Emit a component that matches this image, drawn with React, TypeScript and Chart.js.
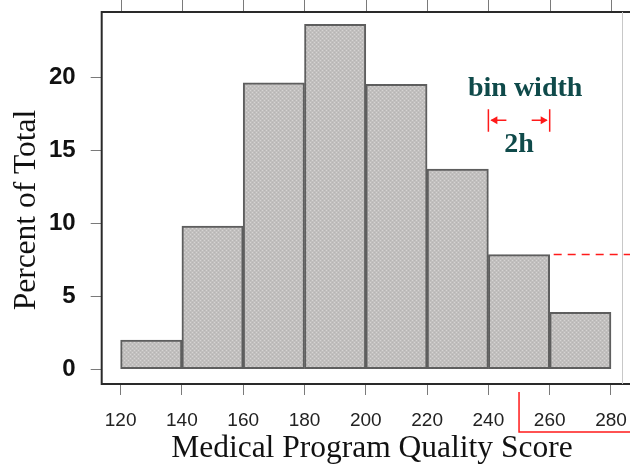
import React, { useEffect, useRef } from "react";
import { Chart, registerables } from "chart.js";

Chart.register(...registerables);

const binCenters = [130, 150, 170, 190, 210, 230, 250, 270];
const percents = [2.0, 9.8, 19.6, 23.6, 19.5, 13.7, 7.85, 3.9];
const xTickValues = [120, 140, 160, 180, 200, 220, 240, 260, 280];
const yTickValues = [0, 5, 10, 15, 20];
const xTitle = "Medical Program Quality Score";
const yTitle = "Percent of Total";
const noteTitle = "bin width";
const noteLabel = "2h";
const noteLeftEdge = 240;
const noteRightEdge = 260;
const bracketX = 250;

function makePattern(): CanvasPattern | string {
  const c = document.createElement("canvas");
  c.width = 4;
  c.height = 4;
  const g = c.getContext("2d");
  if (!g) return "#c0bebd";
  g.fillStyle = "#c1bfbe";
  g.fillRect(0, 0, 4, 4);
  g.fillStyle = "#d6d4d3";
  g.fillRect(0, 0, 1, 1);
  g.fillRect(2, 2, 1, 1);
  g.fillStyle = "#b6b4b3";
  g.fillRect(2, 0, 1, 1);
  g.fillRect(0, 2, 1, 1);
  const p = g.createPattern(c, "repeat");
  return p || "#c0bebd";
}

export default function App() {
  const ref = useRef<HTMLCanvasElement | null>(null);

  useEffect(() => {
    const canvas = ref.current;
    if (!canvas) return;

    const frame = {
      id: "frame",
      afterDraw(chart: any) {
        const { ctx, chartArea } = chart;
        const xs = chart.scales.x;
        const ys = chart.scales.y;
        const W = chart.width;
        const H = chart.height;
        ctx.save();
        // top ticks
        ctx.strokeStyle = "#7a7a7a";
        ctx.lineWidth = 1;
        xTickValues.forEach((v) => {
          const px = Math.round(xs.getPixelForValue(v)) + 0.5;
          ctx.beginPath();
          ctx.moveTo(px, 0);
          ctx.lineTo(px, chartArea.top);
          ctx.stroke();
        });
        // box
        ctx.strokeStyle = "#2a2a2a";
        ctx.lineWidth = 2;
        ctx.beginPath();
        ctx.moveTo(W, chartArea.top);
        ctx.lineTo(chartArea.left, chartArea.top);
        ctx.lineTo(chartArea.left, chartArea.bottom);
        ctx.lineTo(W, chartArea.bottom);
        ctx.stroke();
        ctx.strokeStyle = "#c8c8c8";
        ctx.lineWidth = 1;
        ctx.beginPath();
        ctx.moveTo(chartArea.right - 3.5, chartArea.top);
        ctx.lineTo(chartArea.right - 3.5, chartArea.bottom);
        ctx.stroke();

        // axis titles
        ctx.fillStyle = "#111";
        ctx.font = "31.5px 'Liberation Serif', 'Times New Roman', serif";
        ctx.textAlign = "center";
        ctx.textBaseline = "alphabetic";
        ctx.fillText(xTitle, xs.getPixelForValue(202), H - 8);
        ctx.save();
        ctx.translate(35, ys.getPixelForValue(10.9));
        ctx.rotate(-Math.PI / 2);
        ctx.fillText(yTitle, 0, 0);
        ctx.restore();

        // red annotations
        const red = "#ff1a1a";
        const yDash = ys.getPixelForValue(percents[6]);
        ctx.strokeStyle = red;
        ctx.lineWidth = 1.5;
        ctx.setLineDash([8, 6]);
        ctx.beginPath();
        ctx.moveTo(xs.getPixelForValue(noteRightEdge) + 4, yDash);
        ctx.lineTo(W, yDash);
        ctx.stroke();
        ctx.setLineDash([]);

        const bx = xs.getPixelForValue(bracketX);
        ctx.beginPath();
        ctx.moveTo(bx, chartArea.bottom + 8);
        ctx.lineTo(bx, chartArea.bottom + 48);
        ctx.lineTo(W, chartArea.bottom + 48);
        ctx.stroke();

        const lx = xs.getPixelForValue(noteLeftEdge);
        const rx = xs.getPixelForValue(noteRightEdge);
        const yTop = ys.getPixelForValue(17.8);
        const yBot = ys.getPixelForValue(16.25);
        const yMid = ys.getPixelForValue(17.05);
        ctx.lineWidth = 1.5;
        ctx.beginPath();
        ctx.moveTo(lx, yTop);
        ctx.lineTo(lx, yBot);
        ctx.moveTo(rx, yTop);
        ctx.lineTo(rx, yBot);
        ctx.moveTo(lx + 3, yMid);
        ctx.lineTo(lx + 18, yMid);
        ctx.moveTo(rx - 3, yMid);
        ctx.lineTo(rx - 18, yMid);
        ctx.stroke();
        ctx.fillStyle = red;
        ctx.beginPath();
        ctx.moveTo(lx + 2, yMid);
        ctx.lineTo(lx + 9, yMid - 4);
        ctx.lineTo(lx + 9, yMid + 4);
        ctx.closePath();
        ctx.fill();
        ctx.beginPath();
        ctx.moveTo(rx - 2, yMid);
        ctx.lineTo(rx - 9, yMid - 4);
        ctx.lineTo(rx - 9, yMid + 4);
        ctx.closePath();
        ctx.fill();

        // texts
        ctx.fillStyle = "#0f4a4a";
        ctx.font = "bold 28px 'Liberation Serif', 'Times New Roman', serif";
        ctx.textAlign = "center";
        ctx.textBaseline = "alphabetic";
        ctx.fillText(noteTitle, xs.getPixelForValue(252), ys.getPixelForValue(18.7));
        ctx.fillText(noteLabel, xs.getPixelForValue(250), ys.getPixelForValue(14.9));
        ctx.restore();
      },
    };

    const chart = new Chart(canvas, {
      type: "bar",
      data: {
        datasets: [
          {
            data: binCenters.map((x, i) => ({ x, y: percents[i] })),
            backgroundColor: makePattern() as any,
            borderColor: "#5e5e5e",
            borderWidth: 2,
            borderSkipped: false,
            barPercentage: 1,
            categoryPercentage: 1,
          },
        ],
      },
      options: {
        animation: false,
        responsive: false,
        events: [],
        layout: { padding: { top: 12, right: 4, left: 0, bottom: 0 } },
        plugins: {
          legend: { display: false },
          tooltip: { enabled: false },
        },
        scales: {
          x: {
            type: "linear",
            offset: false,
            min: 113.83,
            max: 284.9,
            afterBuildTicks: (s: any) => {
              s.ticks = xTickValues.map((v) => ({ value: v }));
            },
            afterFit: (s: any) => {
              s.height = 81;
              s.paddingLeft = 0;
              s.paddingRight = 0;
            },
            border: { display: false },
            grid: {
              display: true,
              offset: false,
              drawOnChartArea: false,
              drawTicks: true,
              tickLength: 11,
              color: "#7a7a7a",
              lineWidth: 1,
            },
            ticks: {
              padding: 14,
              color: "#222",
              font: { family: "'Liberation Sans', Arial, sans-serif", size: 19 },
              maxRotation: 0,
              autoSkip: false,
            },
            title: { display: false },
          },
          y: {
            type: "linear",
            min: -1.007,
            max: 24.45,
            afterBuildTicks: (s: any) => {
              s.ticks = yTickValues.map((v) => ({ value: v }));
            },
            afterFit: (s: any) => {
              s.width = 101.7;
              s.paddingTop = 0;
              s.paddingBottom = 0;
            },
            border: { display: false },
            grid: {
              display: true,
              drawOnChartArea: false,
              drawTicks: true,
              tickLength: 11,
              color: "#7a7a7a",
              lineWidth: 1,
            },
            ticks: {
              padding: 15,
              color: "#111",
              font: { family: "'Liberation Sans', Arial, sans-serif", size: 24, weight: "bold" },
            },
            title: { display: false },
          },
        },
      },
      plugins: [frame],
    } as any);

    return () => chart.destroy();
  }, []);

  return (
    <div style={{ position: "fixed", left: 0, top: 0, width: 630, height: 465, background: "#fff" }}>
      <canvas ref={ref} width={630} height={465} style={{ display: "block" }} />
    </div>
  );
}
